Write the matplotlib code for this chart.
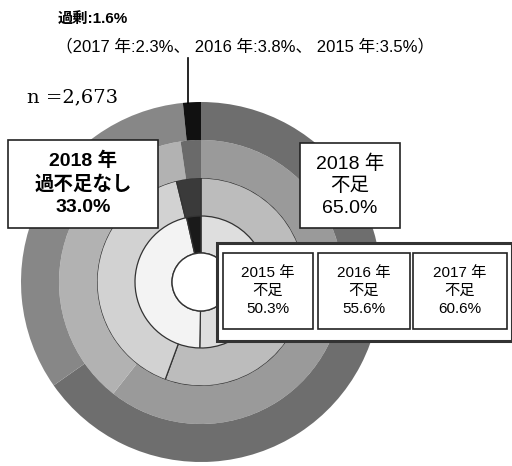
import matplotlib
matplotlib.use("Agg")
import matplotlib.pyplot as plt
from matplotlib.patches import Rectangle, Circle

plt.rcParams['font.family'] = ['Liberation Sans', 'Noto Sans CJK JP']

# data (percent), rings from inner to outer
years = ['2015', '2016', '2017', '2018']
shortage = [50.3, 55.6, 60.6, 65.0]
neutral = [46.2, 40.6, 37.1, 33.0]
excess = [3.5, 3.8, 2.3, 1.6]

# ring colours: (不足, 過不足なし, 過剰)
ring_colors = [
    ('#dedede', '#f3f3f3', '#1a1a1a'),
    ('#bcbcbc', '#d2d2d2', '#3a3a3a'),
    ('#9a9a9a', '#b2b2b2', '#6a6a6a'),
    ('#6e6e6e', '#878787', '#111111'),
]

W, H = 512, 466
fig = plt.figure(figsize=(W / 100, H / 100), dpi=100)
ax = fig.add_axes([0, 0, 1, 1])
ax.set_xlim(0, W)
ax.set_ylim(0, H)
ax.set_aspect('equal')
ax.axis('off')


def Y(y):
    return H - y


cx, cy = 201, Y(282)
width = 38
radii = [67, 104, 142, 180]

for i in range(len(years)):
    vals = [shortage[i], neutral[i], excess[i]]
    edge = '#333333' if i < 2 else 'none'
    ax.pie(vals, radius=radii[i], center=(cx, cy), startangle=90,
           counterclock=False, colors=ring_colors[i],
           wedgeprops=dict(width=width, edgecolor=edge, linewidth=0.9))

ax.add_patch(Circle((cx, cy), radii[0] - width, facecolor='white',
                    edgecolor='#333333', linewidth=1.0, zorder=3))
ax.set_xlim(0, W)
ax.set_ylim(0, H)

# top annotation
ax.text(58, Y(20), '過剰:1.6%', fontsize=11, fontweight='bold',
        ha='left', va='center')
ax.text(56, Y(46),
        '（2017 年:2.3%、 2016 年:3.8%、 2015 年:3.5%）',
        fontsize=12, ha='left', va='center')
ax.plot([188, 188], [Y(58), Y(103)], color='black', lw=1.2, zorder=5)

ax.text(27, Y(97), 'n =2,673', fontsize=14, family='DejaVu Serif',
        ha='left', va='center')


def box(x0, y0, x1, y1, lines, size, bold=False, lw=1.2, z=6):
    ax.add_patch(Rectangle((x0, Y(y1)), x1 - x0, y1 - y0, facecolor='white',
                           edgecolor='#222222', linewidth=lw, zorder=z))
    ax.text((x0 + x1) / 2, Y((y0 + y1) / 2), '\n'.join(lines),
            fontsize=size, fontweight='bold' if bold else 'normal',
            ha='center', va='center', linespacing=1.38, zorder=z + 1)


box(8, 140, 158, 228, ['2018 年', '過不足なし', '33.0%'], 14, bold=True)
box(300, 143, 400, 228, ['2018 年', '不足', '65.0%'], 14)

# container for the older years
ax.add_patch(Rectangle((217, Y(341)), 295, 98, facecolor='white',
                       edgecolor='#333333', linewidth=2.2, zorder=5))
small_x = [(223, 313), (318, 410), (413, 507)]
for (x0, x1), yr, v in zip(small_x, years[:3], shortage[:3]):
    box(x0, 253, x1, 329, [f'{yr} 年', '不足', f'{v:.1f}%'], 11, z=6)

fig.savefig('out.png', dpi=100)
